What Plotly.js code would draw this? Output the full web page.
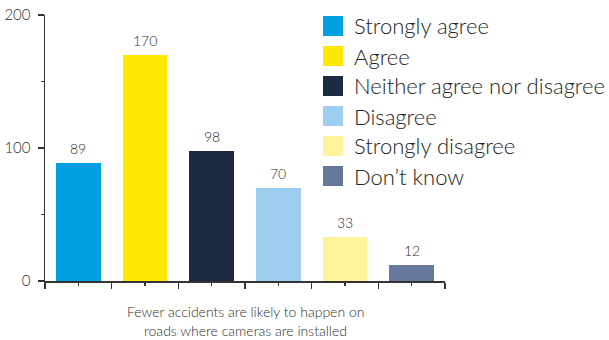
<!DOCTYPE html>
<html>
<head>
<meta charset="utf-8">
<script src="https://cdn.plot.ly/plotly-3.0.1.min.js"></script>
<style>html,body{margin:0;padding:0;background:#fff;}#chart{width:609px;height:340px;}</style>
</head>
<body>
<div id="chart"></div>
<script>
const categories = ["Strongly agree", "Agree", "Neither agree nor disagree", "Disagree", "Strongly disagree", "Don\u2019t know"];
const values = [89, 170, 98, 70, 33, 12];
const colors = ["#00a0e3", "#ffe800", "#1b2a40", "#9dcef0", "#fff49a", "#66789b"];
const yTickVals = [0, 100, 200];
const xTitleLines = ["Fewer accidents are likely to happen on", "roads where cameras are installed"];

const FONT = "Lato, 'Open Sans', sans-serif";
const M = {l: 45, r: 164, t: 15, b: 59};
const W = 609, H = 340;
const PW = W - M.l - M.r, PH = H - M.t - M.b;
const px2x = p => (p - M.l) / PW;
const py2y = p => (H - M.b - p) / PH;

const traces = categories.map((c, i) => ({
  type: "bar",
  name: c,
  x: [i],
  y: [values[i]],
  width: 0.67,
  marker: {color: colors[i]},
  showlegend: false,
  hoverinfo: "skip"
}));

const annotations = [];
const shapes = [];
categories.forEach((c, i) => {
  annotations.push({
    x: i, y: values[i], xref: "x", yref: "y",
    text: String(values[i]), showarrow: false,
    yanchor: "bottom", yshift: 4,
    font: {family: FONT, size: 14, color: "#2e2e2e", weight: 300}
  });
  const top = 16 + i * 30;
  shapes.push({
    type: "rect", xref: "paper", yref: "paper",
    x0: px2x(323), x1: px2x(343), y0: py2y(top + 20), y1: py2y(top),
    fillcolor: colors[i], line: {width: 0}
  });
  annotations.push({
    xref: "paper", yref: "paper", x: px2x(352), y: py2y(top + 10),
    xanchor: "left", yanchor: "middle", text: c, showarrow: false,
    font: {family: FONT, size: 22, color: "#222", weight: 300}
  });
});

xTitleLines.forEach((t, k) => {
  annotations.push({
    xref: "paper", yref: "paper", x: 0.5, y: py2y(321),
    xanchor: "center", yanchor: k === 0 ? "bottom" : "top", text: t, showarrow: false,
    borderpad: 0,
    font: {family: FONT, size: 14, color: "#2e2e2e", weight: 300}
  });
});

const layout = {
  width: W, height: H,
  margin: M,
  paper_bgcolor: "#fff", plot_bgcolor: "#fff",
  font: {family: FONT, color: "#333"},
  bargap: 0,
  xaxis: {
    type: "linear", range: [-0.5, categories.length - 0.5],
    tickmode: "linear", tick0: -0.5, dtick: 1,
    ticks: "outside", ticklen: 6, tickcolor: "#333", tickwidth: 1.2,
    showticklabels: false, showgrid: false, zeroline: false,
    showline: true, linecolor: "#333", linewidth: 1.5,
    minor: {tickmode: "linear", tick0: 0, dtick: 1, ticks: "outside", ticklen: 3, tickcolor: "#333", tickwidth: 1.2}
  },
  yaxis: {
    range: [0, 200], tickmode: "array", tickvals: yTickVals,
    ticks: "outside", ticklen: 6, tickcolor: "#333", tickwidth: 1.2,
    showgrid: false, zeroline: false,
    showline: true, linecolor: "#333", linewidth: 1.5,
    tickfont: {family: FONT, size: 15, color: "#2e2e2e", weight: 300},
    ticklabelstandoff: 4,
    minor: {tickmode: "array", tickvals: [50, 150], ticks: "outside", ticklen: 3, tickcolor: "#333", tickwidth: 1.2}
  },
  annotations: annotations,
  shapes: shapes,
  showlegend: false
};

Plotly.newPlot("chart", traces, layout, {staticPlot: true, displayModeBar: false});
</script>
</body>
</html>
